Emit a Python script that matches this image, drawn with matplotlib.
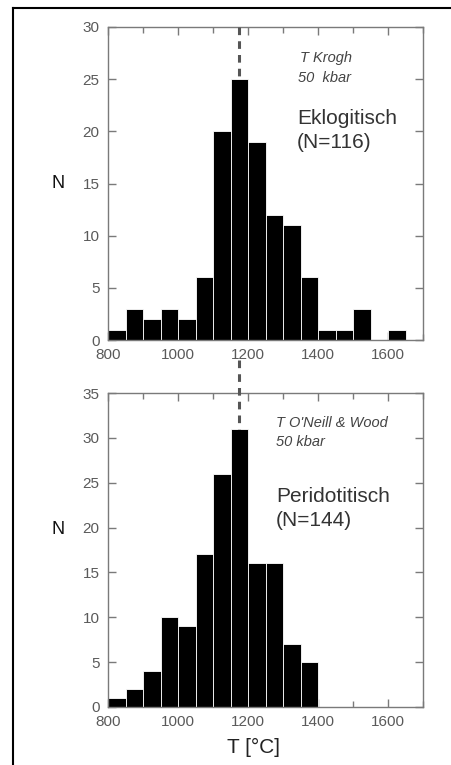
import matplotlib
matplotlib.use("Agg")
import matplotlib.pyplot as plt
from matplotlib.lines import Line2D
from matplotlib.ticker import MultipleLocator

plt.rcParams['font.family'] = ['Liberation Sans', 'DejaVu Sans']

# histogram bins (lower edges, 50 deg C wide)
bin_edges = [800, 850, 900, 950, 1000, 1050, 1100, 1150, 1200, 1250,
             1300, 1350, 1400, 1450, 1500, 1550, 1600]
eklog_counts = [1, 3, 2, 3, 2, 6, 20, 25, 19, 12, 11, 6, 1, 1, 3, 0, 1]
perid_counts = [1, 2, 4, 10, 9, 17, 26, 31, 16, 16, 7, 5, 0, 0, 0, 0, 0]
bin_width = 50
mean_T = 1175

W, H = 451, 765
fig = plt.figure(figsize=(W / 100, H / 100), dpi=100)
fig.patch.set_facecolor('white')

gray = '#7a7a7a'
label_gray = '#5a5a5a'


def px(x, y):
    return x / W, 1 - y / H


def style_axes(ax, ymax, ystep):
    ax.set_xlim(800, 1700)
    ax.set_ylim(0, ymax)
    ax.xaxis.set_major_locator(MultipleLocator(200))
    ax.xaxis.set_minor_locator(MultipleLocator(100))
    ax.yaxis.set_major_locator(MultipleLocator(ystep))
    for s in ax.spines.values():
        s.set_color(gray)
        s.set_linewidth(1.0)
    ax.tick_params(which='both', direction='in', top=True, right=True,
                   color=gray, labelcolor=label_gray, labelsize=11)
    ax.tick_params(which='major', length=6, width=1)
    ax.tick_params(which='minor', length=4, width=1)
    ax.tick_params(axis='x', pad=6)
    ax.tick_params(axis='y', pad=6)


# top panel: eclogitic
ax1 = fig.add_axes([108 / W, 1 - 340 / H, 315 / W, 313 / H])
ax1.bar(bin_edges, eklog_counts, width=bin_width, align='edge',
        color='black', edgecolor='white', linewidth=0.6, zorder=2)
style_axes(ax1, 30, 5)
ax1.plot([mean_T, mean_T], [30, 25], ls=(0, (2.5, 2)), lw=2.2,
         color='#555555', zorder=3)

# bottom panel: peridotitic
ax2 = fig.add_axes([108 / W, 1 - 707 / H, 315 / W, 314 / H])
ax2.bar(bin_edges, perid_counts, width=bin_width, align='edge',
        color='black', edgecolor='white', linewidth=0.6, zorder=2)
style_axes(ax2, 35, 5)
ax2.plot([mean_T, mean_T], [38.7, 31], ls=(0, (2.5, 2)), lw=2.2,
         color='#555555', zorder=3, clip_on=False)

# y labels
fig.text(*px(58, 184), 'N', fontsize=13, ha='center', va='center', color='#111111')
fig.text(*px(58, 530), 'N', fontsize=13, ha='center', va='center', color='#111111')
fig.text(*px(253, 747), 'T [°C]', fontsize=15, ha='center', va='center', color='#222222')

# annotations
fig.text(*px(300, 62), 'T Krogh', fontsize=10.5, style='italic', color='#444444', va='baseline')
fig.text(*px(298, 82), '50  kbar', fontsize=10.5, style='italic', color='#444444', va='baseline')
fig.text(*px(297, 124), 'Eklogitisch', fontsize=15, color='#333333', va='baseline')
fig.text(*px(297, 148), '(N=116)', fontsize=15, color='#333333', va='baseline')

fig.text(*px(276, 427), "T O'Neill & Wood", fontsize=10.5, style='italic', color='#444444', va='baseline')
fig.text(*px(276, 446), '50 kbar', fontsize=10.5, style='italic', color='#444444', va='baseline')
fig.text(*px(276, 502), 'Peridotitisch', fontsize=15, color='#333333', va='baseline')
fig.text(*px(276, 526), '(N=144)', fontsize=15, color='#333333', va='baseline')

# outer frame (left and top edges visible)
fig.add_artist(Line2D([13 / W, 13 / W], [0, 1 - 8 / H], color='black', lw=1.5))
fig.add_artist(Line2D([13 / W, 1], [1 - 8 / H, 1 - 8 / H], color='black', lw=1.5))

fig.savefig('out.png', dpi=100, facecolor='white')
